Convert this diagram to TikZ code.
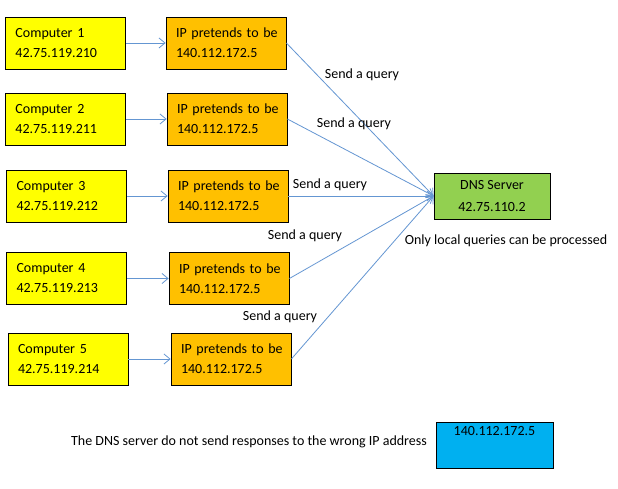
\documentclass[tikz,border=0pt]{standalone}
\usepackage{fontspec}
\setmainfont{Carlito}
\usetikzlibrary{arrows.meta}
\definecolor{linecol}{RGB}{100,150,210}
\definecolor{pcyellow}{RGB}{255,255,0}
\definecolor{iporange}{RGB}{255,192,0}
\definecolor{dnsgreen}{RGB}{146,208,80}
\definecolor{ipblue}{RGB}{0,176,240}
\tikzset{
  box/.style={draw=black, line width=0.8pt, minimum width=120pt, minimum height=52pt,
    text width=100pt, align=left, inner sep=0pt,
    font=\fontsize{14}{20}\selectfont},
  pcbox/.style={box, fill=pcyellow},
  ipbox/.style={box, fill=iporange},
  cbox/.style={draw=black, line width=0.8pt, minimum width=116pt, minimum height=46pt,
    align=center, inner sep=0pt, font=\fontsize{14}{22}\selectfont},
  conn/.style={draw=linecol, line width=0.8pt, -{Straight Barb[length=6pt,width=10pt]}},
  lbl/.style={inner sep=0pt, font=\fontsize{14}{16}\selectfont}
}
\newcommand{\fakeip}{\mbox{IP pretends to be}\\140.112.172.5}
\begin{document}
\begin{tikzpicture}[x=1pt,y=-1pt]
\useasboundingbox (0,0) rectangle (618,489);
\fill[white] (0,0) rectangle (618,489);

\node[pcbox] (c1) at (65.5,43) {Computer 1\\42.75.119.210};
\node[pcbox] (c2) at (65.5,119) {Computer 2\\42.75.119.211};
\node[pcbox] (c3) at (66.5,196) {Computer 3\\42.75.119.212};
\node[pcbox] (c4) at (66.5,278.5) {Computer 4\\42.75.119.213};
\node[pcbox] (c5) at (68,359) {Computer 5\\42.75.119.214};

\node[ipbox] (p1) at (226,43) {\fakeip};
\node[ipbox] (p2) at (227,119) {\fakeip};
\node[ipbox] (p3) at (228,196) {\fakeip};
\node[ipbox] (p4) at (229,278.5) {\fakeip};
\node[ipbox] (p5) at (231,359) {\fakeip};

\node[cbox, fill=dnsgreen] (dns) at (492,196) {DNS Server\\42.75.110.2};
\node[cbox, fill=ipblue, minimum width=117pt] (wrong) at (494.5,445) {140.112.172.5\\\strut};

\foreach \i in {1,...,5} {
  \draw[conn] (c\i.east) -- (p\i.west);
  \draw[conn] (p\i.east) -- (dns.west);
}

\node[lbl] (q1) at (362,75) {Send a query};
\node[lbl] (q2) at (354,124) {Send a query};
\node[lbl] (q3) at (330,185) {Send a query};
\node[lbl] (q4) at (305,236) {Send a query};
\node[lbl] (q5) at (280,317) {Send a query};

\node[lbl] (local) at (506,241) {Only local queries can be processed};
\node[lbl] (note) at (249,442) {The DNS server do not send responses to the wrong IP address};
\end{tikzpicture}
\end{document}
